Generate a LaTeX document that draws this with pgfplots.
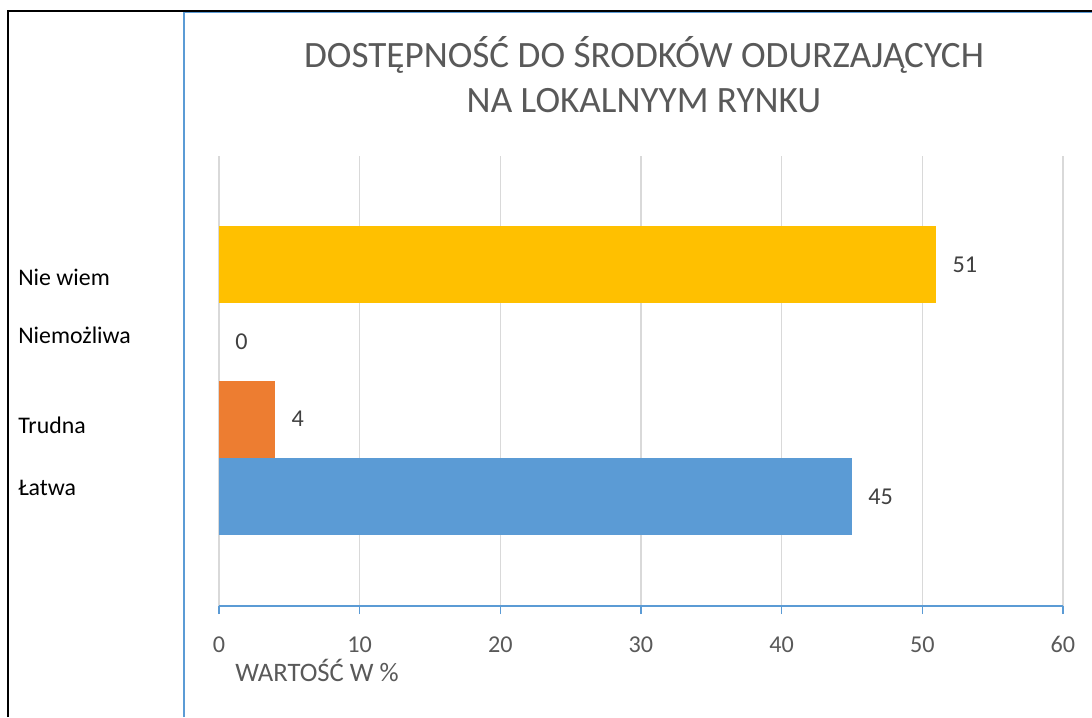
\documentclass[border=0pt]{standalone}
\usepackage{fontspec}
\setmainfont{Carlito}
\usepackage{pgfplots}
\pgfplotsset{compat=1.18}
\definecolor{cYellow}{HTML}{FFC000}
\definecolor{cOrange}{HTML}{ED7D31}
\definecolor{cBlue}{HTML}{5B9BD5}
\definecolor{cGrid}{HTML}{D9D9D9}
\definecolor{cText}{HTML}{595959}
\definecolor{cLabel}{HTML}{404040}
\begin{document}
\begin{tikzpicture}[x=0.6pt,y=-0.6pt]
\useasboundingbox (0,0) rectangle (1092,717);
% frame
\draw[cBlue, line width=0.9pt] (184,717) -- (184,12.5) -- (1092,12.5);
\draw[black, line width=1.1pt] (8,717) -- (8,11) -- (1092,11);
% title
\node[anchor=base, font=\fontsize{22.3}{27}\selectfont, text=cText, inner sep=0pt] at (644,67) {DOSTĘPNOŚĆ DO ŚRODKÓW ODURZAJĄCYCH};
\node[anchor=base, font=\fontsize{22.3}{27}\selectfont, text=cText, inner sep=0pt] at (644,112) {NA LOKALNYYM RYNKU};
\begin{axis}[
  at={(131.4pt,-363.6pt)}, anchor=south west,
  scale only axis, width=506.4pt, height=270pt,
  xmin=0, xmax=60, ymin=-1.416, ymax=4.405,
  xbar, bar width=1,
  axis x line*=bottom, axis y line*=left,
  y axis line style={draw=none},
  x axis line style={draw=cBlue, line width=0.8pt},
  xtick={0,10,20,30,40,50,60},
  ytick={0.019,0.821,1.985,2.736},
  yticklabels={Łatwa,Trudna,Niemożliwa,Nie wiem},
  xtick align=outside, ytick align=inside,
  major tick length=4.8pt,
  xtick style={draw=cBlue, line width=0.8pt},
  ytick style={draw=none},
  xmajorgrids, ymajorgrids=false,
  grid style={draw=cGrid, line width=0.8pt},
  /pgf/number format/assume math mode=true,
  xticklabel style={anchor=base, inner sep=0pt, yshift=-22.8pt, font=\fontsize{14.5}{17}\selectfont, text=cText},
  yticklabel style={anchor=base west, inner sep=0pt, xshift=-120.6pt, font=\fontsize{14.3}{17}\selectfont, text=black},
  xlabel={WARTOŚĆ W \%},
  xlabel style={at={(axis description cs:0,0)}, anchor=base west, inner sep=0pt, xshift=9.6pt, yshift=-45pt, font=\fontsize{16}{19}\selectfont, text=cText},
  nodes near coords, point meta=x,
  every node near coord/.append style={anchor=west, inner sep=0pt, xshift=9.6pt, font=\fontsize{14.5}{17}\selectfont, text=cLabel},
]
\addplot[fill=cBlue, draw=none, bar shift=0pt] coordinates {(45,0)};
\addplot[fill=cOrange, draw=none, bar shift=0pt] coordinates {(4,1)};
\addplot[fill=none, draw=none, bar shift=0pt] coordinates {(0,2)};
\addplot[fill=cYellow, draw=none, bar shift=0pt] coordinates {(51,3)};
\end{axis}
\end{tikzpicture}
\end{document}
